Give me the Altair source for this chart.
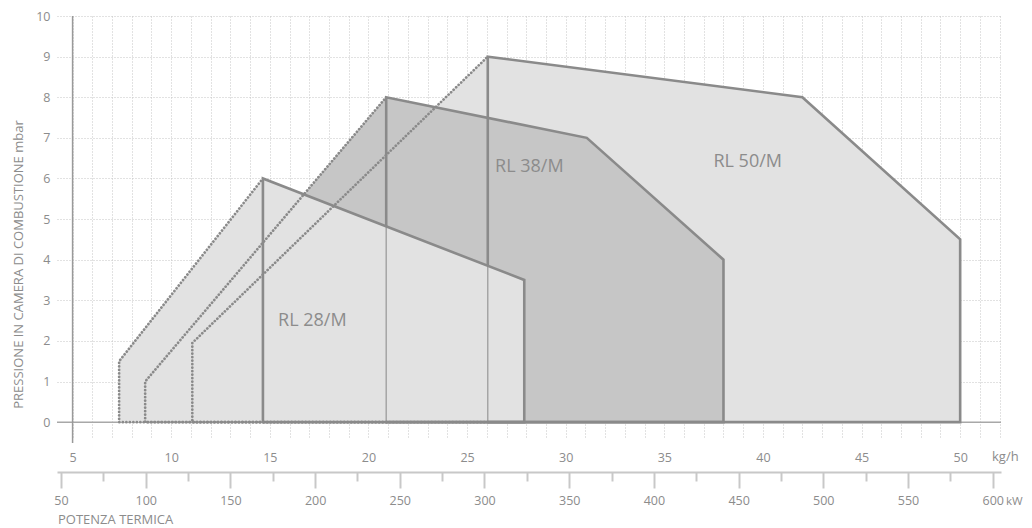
import altair as alt
import numpy as np
import pandas as pd

FONT = "Open Sans"
LINE = "#8a8a8a"
TEXT = "#8c8c8c"
GRID = "#c4c4c4"
LIGHT = "#e2e2e2"
DARK = "#c6c6c6"

# ---------------- data ----------------
burners = ["RL 50/M", "RL 38/M", "RL 28/M"]
min_kgh = [11.07, 8.68, 7.36]          # minimum (ignition) flow, kg/h
min_mbar = [1.95, 1.0, 1.5]            # pressure at minimum flow
top_kgh = [[26.05, 42.0, 50.0], [20.9, 31.07, 38.0], [14.65, 27.9]]
top_mbar = [[9.0, 8.0, 4.5], [8.0, 7.0, 4.0], [6.0, 3.5]]

label_kgh = [37.49, 26.42, 15.42]
label_mbar = [6.29, 6.15, 2.36]

kgh_grid = list(range(5, 53))
kw_ticks = list(range(50, 601, 25))
mbar_ticks = list(range(0, 11))

# ---------------- layout / style ----------------
fills = [LIGHT, DARK, LIGHT]
X_DOMAIN = [4.21, 52.07]
Y_DOMAIN = [-0.39, 10]
KW_DOMAIN = [47.64, 604.9]
W, H = 944, 422

xs = alt.Scale(domain=X_DOMAIN, nice=False, zero=False)
ys = alt.Scale(domain=Y_DOMAIN, nice=False, zero=False)

xaxis = alt.Axis(values=kgh_grid, labelExpr="datum.value % 5 === 0 ? datum.label : ''",
                 grid=True, gridDash=[1, 2], gridColor=GRID, gridWidth=1,
                 ticks=False, tickSize=0, domain=False, labelPadding=13,
                 labelFontSize=12.5, labelColor=TEXT, labelFont=FONT, title=None,
                 labelFlush=False, labelOverlap=False)
yaxis = alt.Axis(values=mbar_ticks, grid=True, gridDash=[1, 2], gridColor=GRID, gridWidth=1,
                 ticks=False, tickSize=0, domain=False, labelPadding=7,
                 labelFontSize=12.5, labelColor=TEXT, labelFont=FONT,
                 title="PRESSIONE IN CAMERA DI COMBUSTIONE mbar", titleAngle=270,
                 titleX=-35, titleY=248, titleAlign="center", titleBaseline="alphabetic",
                 titleFontSize=13, titleFontWeight="normal", titleColor=TEXT, titleFont=FONT)


def X(f="x"):
    return alt.X(f"{f}:Q", scale=xs, axis=xaxis)


def Y(f="y"):
    return alt.Y(f"{f}:Q", scale=ys, axis=yaxis)


layers = []

# zero line and y axis line
layers.append(alt.Chart(pd.DataFrame({"y": [0]})).mark_rule(color="#a8a8a8", strokeWidth=1.5)
              .encode(y=Y(), x=alt.value(0), x2=alt.value(W)))
layers.append(alt.Chart(pd.DataFrame({"x": [5]})).mark_rule(color="#999999", strokeWidth=1.5)
              .encode(x=X(), y=alt.value(0), y2=alt.value(427)))

# filled regions
for i, b in enumerate(burners):
    df = pd.DataFrame({"x": [min_kgh[i]] + top_kgh[i], "y": [min_mbar[i]] + top_mbar[i]})
    df["y0"] = 0.0
    layers.append(alt.Chart(df).mark_area(color=fills[i], opacity=1, interpolate="linear")
                  .encode(x=X(), y=Y(), y2="y0:Q"))

# thin parts of the vertical lines hidden under RL 28/M
front = len(burners) - 1
thin_rows = []
for i in range(front):
    xa = top_kgh[i][0]
    cut = float(np.interp(xa, top_kgh[front], top_mbar[front]))
    thin_rows.append({"x": xa, "y": 0.0, "y2": cut})
layers.append(alt.Chart(pd.DataFrame(thin_rows)).mark_rule(color="#9c9c9c", strokeWidth=1.3)
              .encode(x=X(), y=Y(), y2="y2:Q"))

# solid outlines
rows = []
for i, b in enumerate(burners):
    xa = top_kgh[i][0]
    if i == front:
        start = 0.0
    else:
        start = float(np.interp(xa, top_kgh[front], top_mbar[front]))
    pts = [(xa, start)] + list(zip(top_kgh[i], top_mbar[i])) + [(top_kgh[i][-1], 0.0), (xa, 0.0)]
    for k, (px, py) in enumerate(pts):
        rows.append({"b": b, "o": k, "x": px, "y": py})
layers.append(alt.Chart(pd.DataFrame(rows)).mark_line(color=LINE, strokeWidth=2.6, strokeJoin="miter")
              .encode(x=X(), y=Y(), order="o:Q", detail="b:N"))

# dotted (ignition) outlines
rows = []
for i, b in enumerate(burners):
    xa = top_kgh[i][0]
    pts = [(xa, 0.0), (min_kgh[i], 0.0), (min_kgh[i], min_mbar[i]), (xa, top_mbar[i][0])]
    for k, (px, py) in enumerate(pts):
        rows.append({"b": b, "o": k, "x": px, "y": py})
layers.append(alt.Chart(pd.DataFrame(rows)).mark_line(color=LINE, strokeWidth=2.7, strokeDash=[0.1, 3.4],
                                                      strokeCap="round")
              .encode(x=X(), y=Y(), order="o:Q", detail="b:N"))

# burner labels
layers.append(alt.Chart(pd.DataFrame({"x": label_kgh, "y": label_mbar, "t": burners}))
              .mark_text(align="left", baseline="alphabetic", fontSize=18, color=TEXT, font=FONT)
              .encode(x=X(), y=Y(), text="t:N"))

# unit texts
for txt, px, py, fs in [("kg/h", 935, 445, 13), ("kW", 949, 489, 11.5), ("POTENZA TERMICA", 1, 508, 13)]:
    layers.append(alt.Chart(pd.DataFrame({"t": [txt]}))
                  .mark_text(align="left", baseline="alphabetic", fontSize=fs, color=TEXT, font=FONT)
                  .encode(text="t:N", x=alt.value(px), y=alt.value(py)))

inner = alt.layer(*layers)

kwaxis = alt.Axis(orient="bottom", offset=34, values=kw_ticks,
                  labelExpr="datum.value % 50 === 0 ? datum.label : ''",
                  tickSize={"condition": {"test": "datum.value % 50 === 0", "value": 16}, "value": 9},
                  tickWidth=2, tickColor="#c8c8c8", domainColor="#c8c8c8", domainWidth=2,
                  labelPadding=6, grid=False, title=None, labelFlush=False, labelOverlap=False,
                  labelFontSize=12.5, labelColor=TEXT, labelFont=FONT)
kw_layer = alt.Chart(pd.DataFrame({"kw": [kw_ticks[0], kw_ticks[-1]]})).mark_rule(opacity=0).encode(
    x=alt.X("kw:Q", scale=alt.Scale(domain=KW_DOMAIN, nice=False, zero=False), axis=kwaxis))

chart = (alt.layer(inner, kw_layer)
         .resolve_scale(x="independent")
         .properties(width=W, height=H, autosize=alt.AutoSizeParams(type="none"),
                     padding={"left": 49, "top": 8, "right": 23, "bottom": 90})
         .configure_view(stroke=None)
         .configure_axis(labelFont=FONT, titleFont=FONT))

chart.save("out.html", embed_options={"renderer": "svg", "actions": False})
